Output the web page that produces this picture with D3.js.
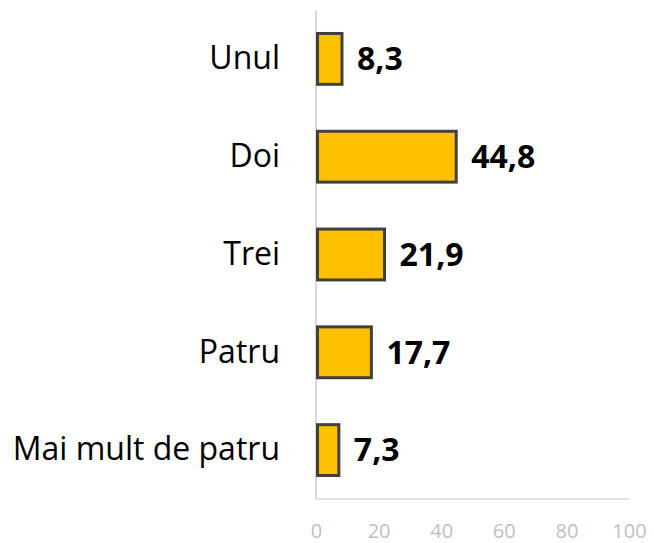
<!DOCTYPE html>
<html>
<head>
<meta charset="utf-8">
<script src="https://cdn.jsdelivr.net/npm/d3@7"></script>
<style>
  body { margin: 0; background: #fff; }
  svg { display: block; font-family: "Open Sans", sans-serif; }
</style>
</head>
<body>
<svg id="chart" width="654" height="543"></svg>
<script>
// Number of items per respondent (%)
const categories = ["Unul", "Doi", "Trei", "Patru", "Mai mult de patru"];
const values = [8.3, 44.8, 21.9, 17.7, 7.3];
const xTicks = [0, 20, 40, 60, 80, 100];

const svg = d3.select("#chart");
const margin = { top: 10, right: 25, bottom: 44, left: 316 };
const width = 654 - margin.left - margin.right;
const height = 543 - margin.top - margin.bottom;

const x = d3.scaleLinear().domain([0, 100]).range([0, width]);
const y = d3.scaleBand().domain(categories).range([0, height]).paddingInner(0.48).paddingOuter(0.24);

const g = svg.append("g").attr("transform", `translate(${margin.left},${margin.top})`);

// axis lines
g.append("line")
  .attr("x1", 0).attr("x2", 0).attr("y1", 0).attr("y2", height)
  .attr("stroke", "#d9d9d9").attr("stroke-width", 2);
g.append("line")
  .attr("x1", 0).attr("x2", width).attr("y1", height).attr("y2", height)
  .attr("stroke", "#d9d9d9").attr("stroke-width", 1.5);

// x tick labels
const xAxis = d3.axisBottom(x).tickValues(xTicks).tickSize(0).tickPadding(25).tickFormat(d3.format("d"));
const xa = g.append("g").attr("transform", `translate(0,${height})`).call(xAxis);
xa.select(".domain").remove();
xa.selectAll("text")
  .attr("fill", "#bfbfbf")
  .style("font-size", "20px")
  .style("font-family", "'Open Sans', sans-serif");

// category labels
const ya = g.append("g").call(d3.axisLeft(y).tickSize(0).tickPadding(36));
ya.select(".domain").remove();
ya.selectAll("text")
  .attr("fill", "#000")
  .style("font-size", "32px")
  .style("font-family", "'Open Sans', sans-serif");

// bars
g.selectAll(".bar")
  .data(values)
  .join("rect")
  .attr("class", "bar")
  .attr("x", 1.5)
  .attr("y", (d, i) => y(categories[i]))
  .attr("width", d => x(d) - 1.5)
  .attr("height", y.bandwidth())
  .attr("fill", "#FFC000")
  .attr("stroke", "#404040")
  .attr("stroke-width", 3);

// value labels
const fmt = v => v.toFixed(1).replace(".", ",");
g.selectAll(".val")
  .data(values)
  .join("text")
  .attr("class", "val")
  .attr("x", d => x(d) + 15)
  .attr("y", (d, i) => y(categories[i]) + y.bandwidth() / 2)
  .attr("dy", "0.35em")
  .attr("fill", "#000")
  .style("font-size", "32px")
  .style("font-weight", "bold")
  .text(fmt);
</script>
</body>
</html>
